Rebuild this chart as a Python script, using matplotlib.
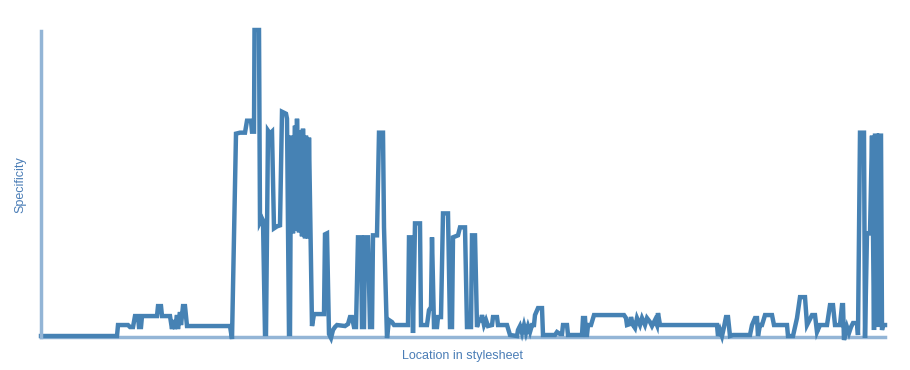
import numpy as np
import matplotlib.pyplot as plt

# location in stylesheet (rule position) and specificity at that point
loc = [0, 76, 77, 87, 89, 92, 94, 97, 98, 100, 101, 116, 117, 120, 121, 129, 131, 132, 134, 136,
       137, 139, 140, 142, 144, 146, 189, 191, 195, 199, 204, 205, 206, 210, 211, 213, 213.5, 218, 219, 221,
       222, 224, 225, 227, 229, 231, 233, 236, 239, 241, 245, 246, 248, 249, 250, 252, 254, 255, 256, 258,
       259, 261, 262, 264, 265, 267, 268, 271, 273, 283, 284, 286, 288, 290, 292, 294, 296, 304, 307, 309,
       311, 313, 315, 317, 320, 321, 323, 324, 327, 329, 331, 332, 336, 338, 342, 343, 346, 348, 351, 353,
       367, 368, 371, 372, 374, 379, 380, 386, 388, 390, 391, 393, 396, 397, 400, 402, 407, 409, 411, 412,
       417, 419, 424, 426, 430, 431, 434, 436, 438, 440, 441, 443, 445, 447, 451, 452, 456, 457, 466, 469,
       476, 477, 479, 481, 483, 485, 487, 489, 491, 493, 494, 497, 501, 502, 514, 516, 519, 521, 522, 526,
       527, 541, 542, 544, 545, 546, 547, 550, 553, 583, 585, 586, 589, 590, 592, 594, 596, 599, 601, 604,
       606, 609, 611, 614, 616, 617, 619, 676, 677, 679, 681, 683, 685, 687, 689, 692, 709, 711, 714, 716,
       717, 719, 721, 724, 731, 733, 746, 747, 752, 756, 759, 764, 766, 771, 774, 776, 779, 786, 789, 792,
       794, 799, 801, 802, 803, 806, 808, 810, 812, 816, 817, 819, 823, 824, 826, 829, 831, 833, 834, 836,
       837, 838, 840, 841, 842, 844]
spec = [0, 0, 11, 11, 9, 9, 20, 20, 9, 9, 20, 20, 30, 30, 20, 20, 7, 16, 7, 21,
        7, 24, 11, 30, 30, 10, 10, -3, 203, 204, 204, 210, 216, 216, 205, 205, 307, 307, 114, 118,
        116, 2, 2, 206, 203, 205, 108, 110, 111, 225, 223, 218, 2, 2, 201, 103, 211, 106, 218, 104,
        206, 100, 208, 98, 201, 98, 199, 10, 22, 22, 102, 103, 2, -2, 6, 9, 11, 10, 12, 19,
        19, 9, 9, 99, 99, 9, 9, 99, 99, 9, 9, 101, 101, 204, 204, 109, -2, 16, 14, 11,
        11, 99, 99, 3, 113, 113, 11, 11, 26, 29, 99, 9, 9, 19, 19, 123, 123, 9, 9, 99,
        101, 109, 109, 9, 9, 101, 101, 9, 16, 16, 21, 11, 16, 10, 11, 19, 19, 11, 11, 1,
        0, 6, 10, 3, 11, 3, 10, 4, 11, 11, 21, 28, 28, 1, 1, 4, 2, 2, 11, 11,
        1, 1, 18, 18, 1, 1, 11, 11, 21, 21, 18, 11, 12, 19, 11, 8, 18, 11, 18, 11,
        18, 14, 10, 16, 11, 23, 11, 11, 0, 6, 0, 9, 19, 19, 0, 1, 1, 11, 18, 18,
        0, 11, 11, 21, 21, 11, 11, 0, 0, 18, 39, 39, 11, 21, 21, 4, 11, 11, 31, 31,
        11, 11, 31, 31, -4, 9, 3, 9, 13, 13, 1, 204, 204, -2, 103, 103, 201, 6, 201, 201,
        9, 201, 201, 6, 11, 11]

plt.rcParams['font.family'] = ['Liberation Sans', 'DejaVu Sans']

fig = plt.figure(figsize=(9.1, 3.7), dpi=100)
ax = fig.add_axes([41 / 910, 33 / 370, 844 / 910, 306 / 370])

ax.plot(loc, spec, color='#4682b4', linewidth=3.2, clip_on=False,
        solid_joinstyle='miter')

ax.set_xlim(0, 844)
ax.set_ylim(-1, 306)

axis_color = '#93b5d6'
for side in ['top', 'right']:
    ax.spines[side].set_visible(False)
for side in ['left', 'bottom']:
    ax.spines[side].set_color(axis_color)
    ax.spines[side].set_linewidth(2.5)
ax.spines['bottom'].set_zorder(0)
ax.set_xticks([])
ax.set_yticks([])

label_color = '#4a7db6'
fig.text(20 / 910, 1 - 185 / 370, 'Specificity', rotation=90, ha='center', va='center',
         fontsize=9, color=label_color)
fig.text(463 / 910, 1 - 356 / 370, 'Location in stylesheet', ha='center', va='center',
         fontsize=9, color=label_color)

fig.savefig('out.png', dpi=100)
plt.close()
